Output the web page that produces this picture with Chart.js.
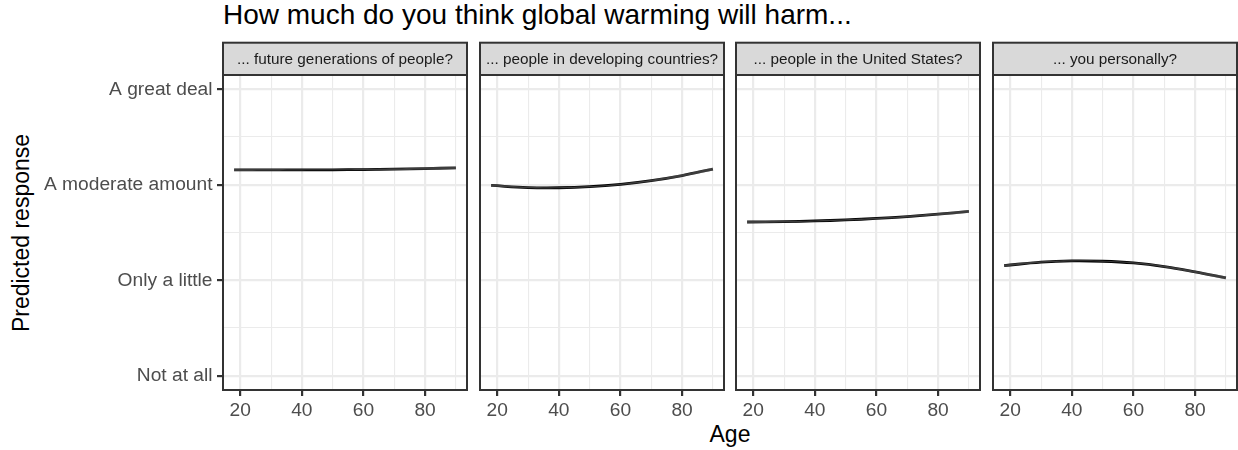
<!DOCTYPE html>
<html>
<head>
<meta charset="utf-8">
<script src="https://cdn.jsdelivr.net/npm/chart.js@4.4.1/dist/chart.umd.min.js"></script>
<style>
  html, body { margin: 0; padding: 0; background: #ffffff; }
  #wrap { position: relative; width: 1238px; height: 450px; overflow: hidden;
          font-family: "Liberation Sans", Arial, Helvetica, sans-serif; }
  canvas { position: absolute; top: 0; }
  .txt { position: absolute; line-height: 1; white-space: nowrap; color: #000000; }
</style>
</head>
<body>
<div id="wrap">
  <div class="txt" style="left:223px; top:1px; font-size:28px;">How much do you think global warming will harm...</div>
  <div class="txt" style="left:730px; top:423px; font-size:23px; transform:translateX(-50%);">Age</div>
  <div class="txt" style="left:21px; top:233px; font-size:23px; transform:translate(-50%,-50%) rotate(-90deg);">Predicted response</div>
  <canvas id="p0" width="469" height="450" style="left:0px"></canvas>
  <canvas id="p1" width="248" height="450" style="left:478px"></canvas>
  <canvas id="p2" width="248" height="450" style="left:734px"></canvas>
  <canvas id="p3" width="248" height="450" style="left:991px"></canvas>
</div>
<script>
// Ages at which the fitted curves are evaluated
const ages = [18, 30, 40, 50, 60, 70, 80, 90];

// Facet titles
const panelTitles = [
  '... future generations of people?',
  '... people in developing countries?',
  '... people in the United States?',
  '... you personally?'
];

// Predicted response (1 = Not at all ... 4 = A great deal)
const futureGenerations   = [3.157, 3.156, 3.156, 3.157, 3.159, 3.163, 3.169, 3.177];
const developingCountries = [2.993, 2.971, 2.969, 2.980, 3.005, 3.044, 3.097, 3.165];
const unitedStates        = [2.610, 2.614, 2.621, 2.632, 2.647, 2.667, 2.692, 2.721];
const personally          = [2.153, 2.190, 2.203, 2.199, 2.181, 2.143, 2.087, 2.024];

// Half-width of the confidence band around each curve
const futureGenerationsSE   = [0.012, 0.008, 0.006, 0.006, 0.007, 0.009, 0.012, 0.016];
const developingCountriesSE = [0.012, 0.008, 0.006, 0.006, 0.007, 0.009, 0.012, 0.016];
const unitedStatesSE        = [0.012, 0.008, 0.006, 0.006, 0.007, 0.009, 0.012, 0.016];
const personallySE          = [0.012, 0.008, 0.006, 0.006, 0.007, 0.009, 0.012, 0.016];

// Axis ticks
const responseLabels = ['Not at all', 'Only a little', 'A moderate amount', 'A great deal'];
const responseLevels = [1, 2, 3, 4];
const responseMinor  = [1.5, 2.5, 3.5];
const ageMajor = [20, 40, 60, 80];
const ageMinor = [30, 50, 70, 90];

const FONT = '"Liberation Sans", Arial, Helvetica, sans-serif';
const STRIP_TOP = 42.7;

// Draws the panel border and the grey facet strip with its title
const panelFrame = {
  id: 'panelFrame',
  afterDraw(chart, args, opts) {
    const { ctx, chartArea: a } = chart;
    ctx.save();
    ctx.fillStyle = '#d9d9d9';
    ctx.fillRect(a.left, STRIP_TOP, a.right - a.left, a.top - STRIP_TOP);
    ctx.strokeStyle = '#333333';
    ctx.lineWidth = 2;
    ctx.strokeRect(a.left, STRIP_TOP, a.right - a.left, a.top - STRIP_TOP);
    ctx.strokeRect(a.left, a.top, a.right - a.left, a.bottom - a.top);
    ctx.fillStyle = '#1a1a1a';
    ctx.font = '15.3px ' + FONT;
    ctx.textAlign = 'center';
    ctx.textBaseline = 'middle';
    ctx.fillText(opts.label, (a.left + a.right) / 2, (STRIP_TOP + a.top) / 2 + 1);
    ctx.restore();
  }
};

function makePanel(canvasId, title, values, se, withYLabels) {
  const line  = ages.map((a, i) => ({ x: a, y: values[i] }));
  const upper = ages.map((a, i) => ({ x: a, y: values[i] + se[i] }));
  const lower = ages.map((a, i) => ({ x: a, y: values[i] - se[i] }));
  const yAxisWidth = withYLabels ? 223 : 2;

  return new Chart(document.getElementById(canvasId), {
    type: 'line',
    data: {
      datasets: [
        { data: upper, borderWidth: 0, pointRadius: 0, fill: '+1',
          backgroundColor: 'rgba(153,153,153,0.4)', tension: 0.4 },
        { data: lower, borderWidth: 0, pointRadius: 0, fill: false, tension: 0.4 },
        { data: line, borderColor: '#000000', borderWidth: 2.8, pointRadius: 0, fill: false,
          tension: 0.4 }
      ]
    },
    options: {
      responsive: false,
      animation: false,
      devicePixelRatio: 1,
      layout: { padding: { top: 75, right: 2, left: 0, bottom: 0 } },
      plugins: {
        legend: { display: false },
        tooltip: { enabled: false },
        panelFrame: { label: title }
      },
      scales: {
        x: {
          type: 'linear',
          min: 14.4, max: 93.6,
          afterBuildTicks: (s) => {
            s.ticks = ageMajor.concat(ageMinor).sort((p, q) => p - q).map(v => ({ value: v }));
          },
          afterFit: (s) => { s.height = 60; },
          border: { display: false },
          grid: {
            color: '#ebebeb',
            lineWidth: (c) => ageMajor.includes(c.tick && c.tick.value) ? 2.2 : 1.1,
            drawTicks: true,
            tickLength: 6,
            tickWidth: 2.2,
            tickColor: (c) => ageMajor.includes(c.tick && c.tick.value) ? '#333333' : 'rgba(0,0,0,0)'
          },
          ticks: {
            autoSkip: false, maxRotation: 0, padding: 3,
            color: '#4d4d4d',
            font: { family: FONT, size: 19.2 },
            callback: (v) => ageMajor.includes(v) ? String(v) : ''
          }
        },
        y: {
          type: 'linear',
          min: 0.85, max: 4.15,
          afterBuildTicks: (s) => {
            s.ticks = responseLevels.concat(responseMinor).sort((p, q) => p - q).map(v => ({ value: v }));
          },
          afterFit: (s) => { s.width = yAxisWidth; },
          border: { display: false },
          grid: {
            color: '#ebebeb',
            lineWidth: (c) => responseLevels.includes(c.tick && c.tick.value) ? 2.2 : 1.1,
            drawTicks: withYLabels,
            tickLength: 6,
            tickWidth: 2.2,
            tickColor: (c) => responseLevels.includes(c.tick && c.tick.value) ? '#333333' : 'rgba(0,0,0,0)'
          },
          ticks: {
            display: withYLabels,
            autoSkip: false, padding: 4.5,
            color: '#4d4d4d',
            font: { family: FONT, size: 19.2 },
            callback: (v) => {
              const k = responseLevels.indexOf(v);
              return k >= 0 ? responseLabels[k] : '';
            }
          }
        }
      }
    },
    plugins: [panelFrame]
  });
}

makePanel('p0', panelTitles[0], futureGenerations, futureGenerationsSE, true);
makePanel('p1', panelTitles[1], developingCountries, developingCountriesSE, false);
makePanel('p2', panelTitles[2], unitedStates, unitedStatesSE, false);
makePanel('p3', panelTitles[3], personally, personallySE, false);
</script>
</body>
</html>
